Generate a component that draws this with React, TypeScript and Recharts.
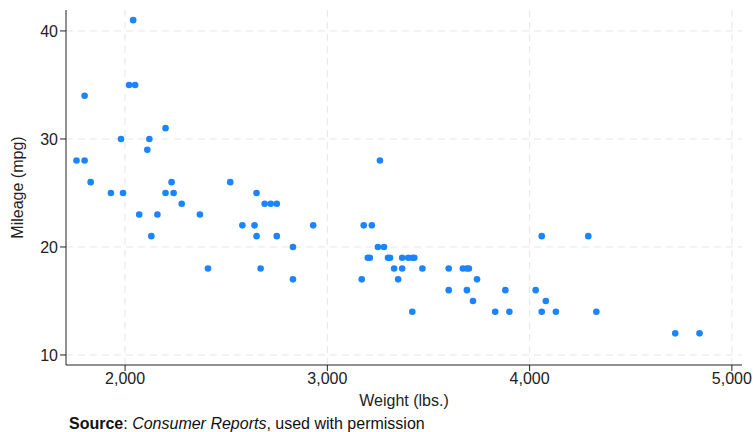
// Mileage vs weight scatter (auto data)

import { ScatterChart, Scatter, XAxis, YAxis, CartesianGrid } from 'recharts';

const weights = [
  2930, 3350, 2640, 3250, 4080, 3670, 2230, 3280, 3880, 3400, 4330, 3900, 4290, 2110, 3690, 3180,
  3220, 2750, 3430, 2120, 3600, 3600, 3740, 1800, 2650, 4840, 4720, 3830, 2580, 4060, 3720, 3370,
  4130, 2830, 4060, 3310, 3300, 3690, 3370, 2720, 4030, 3260, 1800, 2200, 2520, 3330, 3700, 3470,
  3210, 3200, 3420, 2690, 2830, 2070, 2650, 2370, 2020, 2280, 2750, 2130, 2240, 1760, 1980, 3420,
  1830, 2050, 2410, 2200, 2670, 2160, 2040, 1930, 1990, 3170,
];
const mpg = [
  22, 17, 22, 20, 15, 18, 26, 20, 16, 19, 14, 14, 21, 29, 16, 22,
  22, 24, 19, 30, 18, 16, 17, 28, 21, 12, 12, 14, 22, 14, 15, 18,
  14, 20, 21, 19, 19, 18, 19, 24, 16, 28, 34, 25, 26, 18, 18, 18,
  19, 19, 19, 24, 17, 23, 25, 23, 35, 24, 21, 21, 25, 28, 30, 14,
  26, 35, 18, 31, 18, 23, 41, 25, 25, 17,
];
const xTicks = [2000, 3000, 4000, 5000];
const yTicks = [10, 20, 30, 40];

const data = weights.map((w, i) => ({ weight: w, mpg: mpg[i] }));

const FONT = 'Liberation Sans, Arial, sans-serif';

export default function App() {
  return (
    <div style={{ position: 'absolute', left: 0, top: 0, width: 753, height: 432, background: '#fff', fontFamily: FONT }}>
      <ScatterChart width={753} height={432} margin={{ top: 10, right: 11, left: 0, bottom: 0 }}>
        <CartesianGrid stroke="#e6e6e6" strokeDasharray="7 5" horizontalValues={yTicks} verticalValues={xTicks} />
        <XAxis
          type="number"
          dataKey="weight"
          domain={[1708, 5050]}
          ticks={xTicks}
          allowDataOverflow
          height={67}
          tickFormatter={(v: number) => v.toLocaleString('en-US')}
          tick={{ fontSize: 16, fill: '#222', fontFamily: FONT, dy: 0 }}
          tickSize={6}
          stroke="#222"
          label={{ value: 'Weight (lbs.)', position: 'insideTop', offset: 30, fontSize: 16, fill: '#222', fontFamily: FONT }}
        />
        <YAxis
          type="number"
          dataKey="mpg"
          domain={[9.07, 41.94]}
          ticks={yTicks}
          allowDataOverflow
          width={66}
          tick={{ fontSize: 16, fill: '#222', fontFamily: FONT }}
          tickSize={6}
          stroke="#222"
          label={{ value: 'Mileage (mpg)', angle: -90, position: 'insideLeft', offset: 17, fontSize: 16, fill: '#222', fontFamily: FONT, style: { textAnchor: 'middle' } }}
        />
        <Scatter data={data} fill="#1a85ff" isAnimationActive={false} shape={(p: any) => <circle cx={p.cx} cy={p.cy} r={3.3} fill="#1a85ff" />} />
      </ScatterChart>
      <div style={{ position: 'absolute', left: 69, top: 415, fontSize: 16, color: '#111' }}>
        <b>Source</b>: <i>Consumer Reports</i>, used with permission
      </div>
    </div>
  );
}
